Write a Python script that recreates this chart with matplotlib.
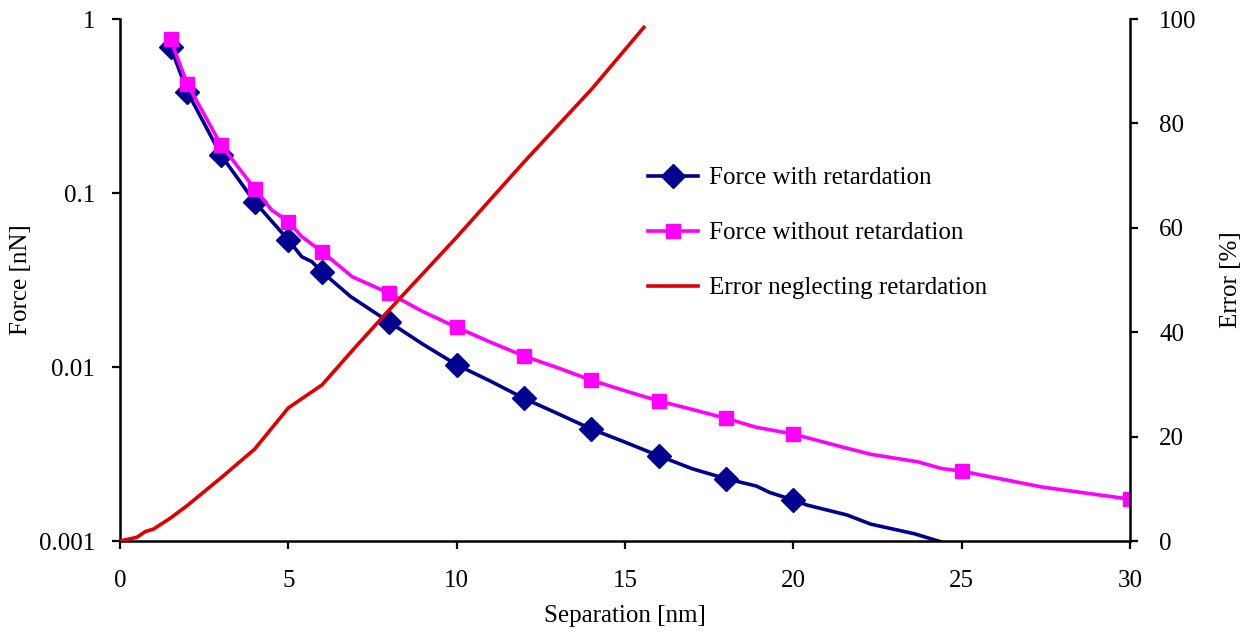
import numpy as np
import matplotlib
matplotlib.use("Agg")
import matplotlib.pyplot as plt
from matplotlib.ticker import FixedLocator, NullLocator, FuncFormatter

plt.rcParams.update({
    "font.family": ["Liberation Serif", "DejaVu Serif"],
    "font.size": 18,
})

# fuerza con retardo [nN] vs separacion [nm]
sep_ret = [1.5, 2.0, 3.0, 4.0, 5.0, 5.4, 5.7, 6.0, 6.85, 8.0, 9.0, 10.0, 11.0, 12.0,
           13.0, 14.0, 15.0, 16.0, 17.0, 18.0, 18.9, 19.3, 20.0, 20.4, 21.6, 22.3,
           23.6, 25.0]
force_ret = [0.693, 0.382, 0.165, 0.089, 0.0537, 0.0430, 0.0403, 0.0352, 0.0254,
             0.0181, 0.0135, 0.0103, 0.0083, 0.0066, 0.0054, 0.0044, 0.0037,
             0.00309, 0.0026, 0.00228, 0.00207, 0.00190, 0.00172, 0.00161,
             0.00141, 0.00125, 0.00110, 0.00091]
marks_ret = [1.5, 2, 3, 4, 5, 6, 8, 10, 12, 14, 16, 18, 20]

# fuerza sin retardo
sep_noret = [1.5, 2.0, 3.0, 4.0, 4.5, 5.0, 5.4, 6.0, 6.9, 8.0, 9.0, 10.0, 11.0, 12.0,
             13.0, 14.0, 15.0, 16.0, 17.0, 18.0, 18.9, 20.0, 21.4, 22.3, 23.7, 24.4,
             25.0, 27.4, 30.0]
force_noret = [0.764, 0.423, 0.189, 0.106, 0.080, 0.0684, 0.0561, 0.046, 0.033,
               0.0265, 0.0208, 0.0169, 0.0139, 0.01156, 0.0099, 0.0084, 0.0073,
               0.00638, 0.0057, 0.00507, 0.0045, 0.00412, 0.00349, 0.00315,
               0.00285, 0.00261, 0.00252, 0.00204, 0.00174]
marks_noret = [1.5, 2, 3, 4, 5, 6, 8, 10, 12, 14, 16, 18, 20, 25, 30]

# error al despreciar el retardo [%]
sep_err = [0, 0.5, 0.75, 1.0, 1.5, 2, 3, 4, 5, 6, 7, 8, 10, 12, 14, 15.56]
error = [0, 0.7, 1.8, 2.3, 4.4, 6.8, 12.1, 17.6, 25.5, 29.9, 37.2, 44.3, 58.2,
         72.6, 86.5, 98.4]

azul = "#000090"
magenta = "#ff00ff"
rojo = "#e00000"

fig = plt.figure(figsize=(12.53, 6.32), dpi=100)
ax = fig.add_axes([120 / 1253, 91 / 632, 1010 / 1253, 522 / 632])
ax2 = ax.twinx()

l1, = ax.plot(sep_ret, force_ret, "-", color=azul, lw=2.6,
              marker="D", ms=12.5, markevery=list(np.isin(sep_ret, marks_ret)),
              label="Force with retardation")
l2, = ax.plot(sep_noret, force_noret, "-", color=magenta, lw=2.6,
              marker="s", ms=10, markevery=list(np.isin(sep_noret, marks_noret)),
              label="Force without retardation")
l3, = ax2.plot(sep_err, error, "-", color=rojo, lw=2.6,
               label="Error neglecting retardation")

ax.set_yscale("log")
ax.set_xlim(0, 30)
ax.set_ylim(0.001, 1)
ax2.set_ylim(0, 100)

ax.xaxis.set_major_locator(FixedLocator([0, 5, 10, 15, 20, 25, 30]))
ax.yaxis.set_major_locator(FixedLocator([0.001, 0.01, 0.1, 1]))
ax.yaxis.set_minor_locator(NullLocator())
ax.yaxis.set_major_formatter(FuncFormatter(lambda v, p: "%g" % v))
ax2.yaxis.set_major_locator(FixedLocator([0, 20, 40, 60, 80, 100]))

for a in (ax, ax2):
    a.spines["top"].set_visible(False)
    for s in a.spines.values():
        s.set_linewidth(1.8)
    a.tick_params(direction="out", length=6, width=1.6, labelsize=18)
ax.tick_params(axis="y", pad=12)
ax.tick_params(axis="x", pad=15)
ax2.tick_params(axis="y", pad=15)
ax.spines["right"].set_visible(False)
ax2.spines["left"].set_visible(False)
ax2.spines["bottom"].set_visible(False)

ax.set_xlabel("Separation [nm]")
ax.set_ylabel("Force [nN]")
ax2.set_ylabel("Error [%]")
ax.xaxis.set_label_coords(0.5, -0.122)
ax.yaxis.set_label_coords(-0.087, 0.5)
ax2.yaxis.set_label_coords(1.089, 0.5)

fig.legend(handles=[l1, l2, l3], loc="center left",
           bbox_to_anchor=(648 / 1253, 399 / 632), frameon=False,
           numpoints=1, handlelength=2.0, handletextpad=0.45,
           labelspacing=1.3, borderpad=0, borderaxespad=0)

fig.savefig("out.png", dpi=100)
